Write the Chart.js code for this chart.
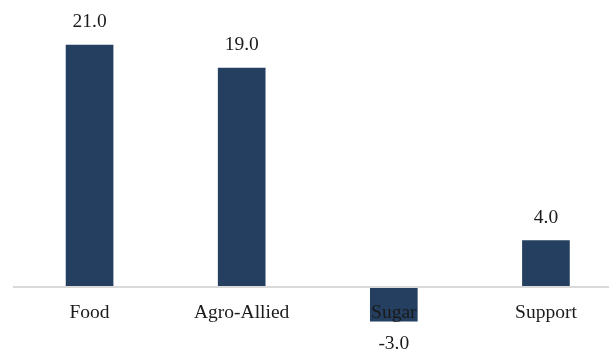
<!DOCTYPE html>
<html>
<head>
<meta charset="utf-8">
<script src="https://cdn.jsdelivr.net/npm/chart.js@4"></script>
<style>
  html, body { margin: 0; padding: 0; background: #fff; overflow: hidden; }
  #wrap { position: relative; width: 622px; height: 351px; }
</style>
</head>
<body>
<div id="wrap"><canvas id="chart-bar"></canvas></div>
<script>
var categories = ["Food", "Agro-Allied", "Sugar", "Support"];
var values = [21.0, 19.0, -3.0, 4.0];

var barColor = "#253f60";
var fontFamily = "'Liberation Serif', 'Times New Roman', serif";

// value labels above positive bars, below negative ones
var valueLabels = {
  id: "valueLabels",
  afterDatasetsDraw: function(chart) {
    var ctx = chart.ctx;
    var meta = chart.getDatasetMeta(0);
    ctx.save();
    ctx.font = "19.5px " + fontFamily;
    ctx.fillStyle = "#1a1a1a";
    ctx.textAlign = "center";
    ctx.textBaseline = "middle";
    meta.data.forEach(function(bar, i) {
      var v = values[i];
      var y = v >= 0 ? bar.y - 23 : bar.y + 23;
      ctx.fillText(v.toFixed(1), bar.x, y);
    });
    ctx.restore();
  }
};

var ctx2 = document.getElementById("chart-bar").getContext("2d");

new Chart(ctx2, {
  type: "bar",
  data: {
    labels: categories,
    datasets: [{
      label: "Value",
      data: values,
      backgroundColor: barColor,
      borderWidth: 0,
      barThickness: 47
    }]
  },
  options: {
    responsive: true,
    maintainAspectRatio: false,
    animation: false,
    layout: { padding: { left: 13.5, right: 0, top: 0, bottom: 0 } },
    plugins: {
      legend: { display: false },
      tooltip: { enabled: false }
    },
    scales: {
      y: {
        display: false,
        min: -5.6,
        max: 24.92
      },
      x: {
        position: { y: 0 },
        grid: {
          display: false,
          drawTicks: false
        },
        border: {
          display: true,
          color: "#d9d9d9",
          width: 2,
          z: 1
        },
        ticks: {
          z: 2,
          color: "#1a1a1a",
          padding: 15,
          font: { family: fontFamily, size: 19.5 }
        }
      }
    }
  },
  plugins: [valueLabels]
});
</script>
</body>
</html>
